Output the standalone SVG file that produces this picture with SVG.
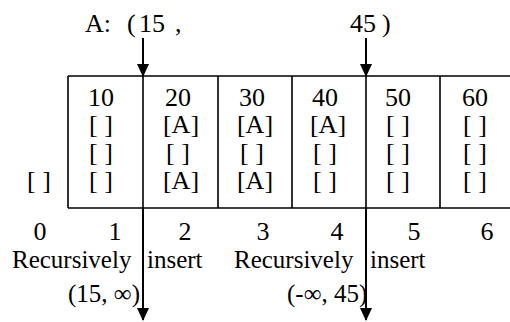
<svg xmlns="http://www.w3.org/2000/svg" width="510" height="322" viewBox="0 0 510 322">
<style>
text{font-family:"Liberation Serif","Times New Roman",serif;font-size:26px;fill:#000}
.c{text-anchor:middle}
.s{font-size:25px}
.ln{stroke:#000;stroke-width:1.6;fill:none}
.ar{stroke:#000;stroke-width:2;fill:none}
</style>
<defs>
<marker id="ah" markerWidth="14" markerHeight="14" refX="12" refY="7" orient="auto" markerUnits="userSpaceOnUse">
<path d="M0,1 L13,7 L0,13 Z" fill="#000"/>
</marker>
</defs>
<g id="query">
<text x="85" y="32">A:</text>
<text x="127" y="32">(</text>
<text x="139" y="32">15</text>
<text x="175" y="32">,</text>
<text x="350" y="32">45</text>
<text x="382" y="32">)</text>
</g>
<g id="array">
<path class="ln" d="M68,76 H510 M68,208 H510 M68,76 V208 M143,76 V208 M218,76 V208 M292,76 V208 M366,76 V208 M440,76 V208"/>
<g id="cell1">
<text class="c" x="101" y="106">10</text>
<text class="c" x="101" y="133">[ ]</text>
<text class="c" x="101" y="161">[ ]</text>
<text class="c" x="101" y="189">[ ]</text>
</g>
<g id="cell2">
<text class="c" x="178" y="106">20</text>
<text class="c" x="181" y="133">[A]</text>
<text class="c" x="178" y="161">[ ]</text>
<text class="c" x="181" y="189">[A]</text>
</g>
<g id="cell3">
<text class="c" x="252" y="106">30</text>
<text class="c" x="255" y="133">[A]</text>
<text class="c" x="252" y="161">[ ]</text>
<text class="c" x="255" y="189">[A]</text>
</g>
<g id="cell4">
<text class="c" x="325" y="106">40</text>
<text class="c" x="328" y="133">[A]</text>
<text class="c" x="325" y="161">[ ]</text>
<text class="c" x="325" y="189">[ ]</text>
</g>
<g id="cell5">
<text class="c" x="398" y="106">50</text>
<text class="c" x="398" y="133">[ ]</text>
<text class="c" x="398" y="161">[ ]</text>
<text class="c" x="398" y="189">[ ]</text>
</g>
<g id="cell6">
<text class="c" x="475" y="106">60</text>
<text class="c" x="475" y="133">[ ]</text>
<text class="c" x="475" y="161">[ ]</text>
<text class="c" x="475" y="189">[ ]</text>
</g>
<g id="cell0">
<text class="c" x="39" y="189">[ ]</text>
</g>
</g>
<g id="indices">
<text class="c" x="40" y="240">0</text>
<text class="c" x="115" y="240">1</text>
<text class="c" x="185" y="240">2</text>
<text class="c" x="263" y="240">3</text>
<text class="c" x="337" y="240">4</text>
<text class="c" x="414" y="240">5</text>
<text class="c" x="487" y="240">6</text>
</g>
<g id="labels">
<text class="s" x="12" y="268">Recursively</text>
<text class="s" x="147" y="268">insert</text>
<text class="s" x="234" y="268">Recursively</text>
<text class="s" x="370" y="268">insert</text>
<text class="s" x="68" y="302">(15, ∞)</text>
<text class="s" x="287" y="302">(-∞, 45)</text>
</g>
<g id="connectors">
<line class="ar" x1="143" y1="38" x2="143" y2="76" marker-end="url(#ah)"/>
<line class="ar" x1="366" y1="38" x2="366" y2="76" marker-end="url(#ah)"/>
<line class="ar" x1="143" y1="208" x2="143" y2="320" marker-end="url(#ah)"/>
<line class="ar" x1="366" y1="208" x2="366" y2="320" marker-end="url(#ah)"/>
</g>
</svg>
